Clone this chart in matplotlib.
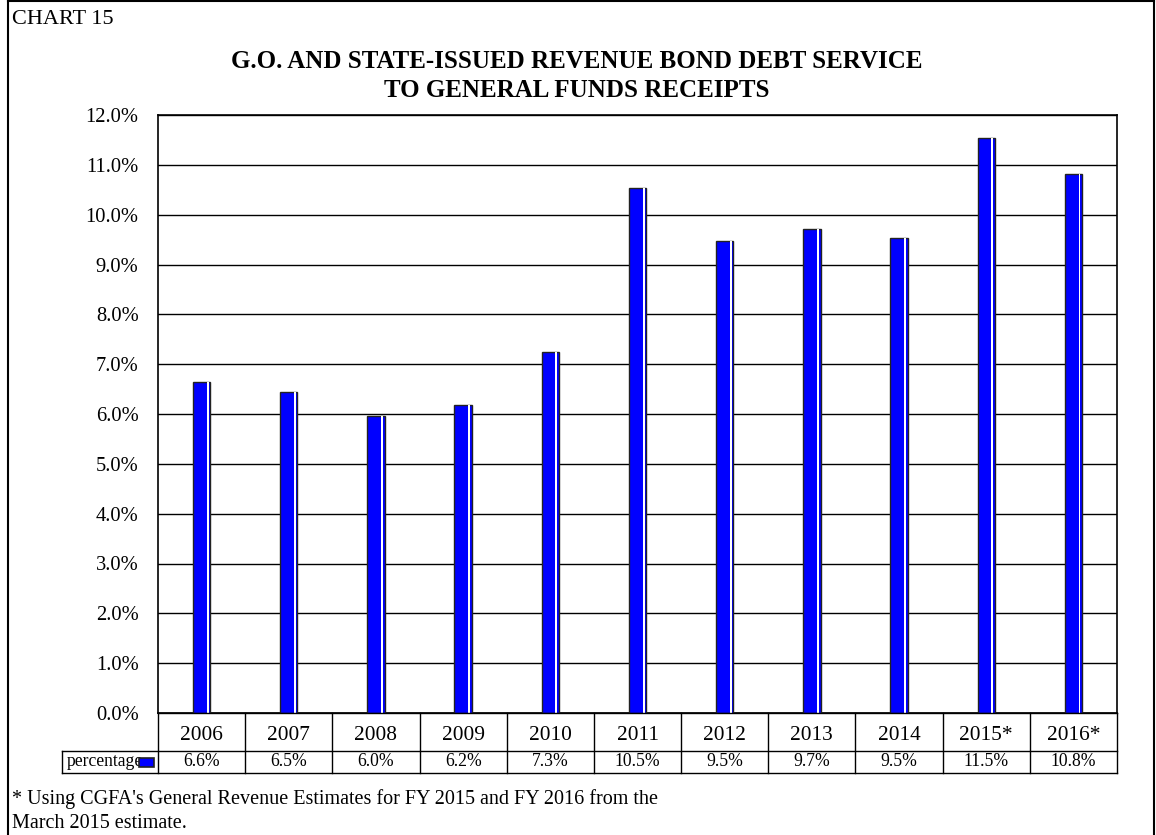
import matplotlib
matplotlib.use("Agg")
import matplotlib.pyplot as plt
from matplotlib.lines import Line2D
from matplotlib.patches import Rectangle

years = ["2006", "2007", "2008", "2009", "2010", "2011", "2012", "2013", "2014", "2015*", "2016*"]
values = [6.64, 6.44, 5.96, 6.18, 7.24, 10.54, 9.47, 9.71, 9.53, 11.54, 10.82]
table_labels = ["6.6%", "6.5%", "6.0%", "6.2%", "7.3%", "10.5%", "9.5%", "9.7%", "9.5%", "11.5%", "10.8%"]
series_name = "percentage"
title = "G.O. AND STATE-ISSUED REVENUE BOND DEBT SERVICE\nTO GENERAL FUNDS RECEIPTS"
chart_label = "CHART 15"
footnote = "* Using CGFA's General Revenue Estimates for FY 2015 and FY 2016 from the\nMarch 2015 estimate."
yticks = [i for i in range(0, 13)]

plt.rcParams['font.family'] = ['Liberation Serif', 'DejaVu Serif']

W, H = 1156, 835
fig = plt.figure(figsize=(W / 100, H / 100), dpi=100)

def fx(px):
    return px / W

def fy(py):
    return 1 - py / H

# outer border
for xs, ys in [((8, 8), (1, 835)), ((8, 1154), (1, 1)), ((1154, 1154), (1, 835))]:
    fig.add_artist(Line2D([fx(xs[0]), fx(xs[1])], [fy(ys[0]), fy(ys[1])], color='black', lw=1.5))

fig.text(fx(12), fy(19), chart_label, fontsize=16, ha='left', va='center')
fig.text(fx(577), fy(76), title, fontsize=18, fontweight='bold', ha='center', va='center', linespacing=1.35)

L, R, T, B = 158, 1117, 115, 713
ax = fig.add_axes([fx(L), fy(B), fx(R - L), (B - T) / H])
n = len(years)
x = list(range(n))
bw = 0.2
ax.bar(x, values, width=bw, color='#0000ff', edgecolor='#222222', linewidth=1.0, zorder=3)
ax.bar([xi + bw / 2 - 0.03 for xi in x], values, width=0.022, color='white', linewidth=0, zorder=4)
ax.set_xlim(-0.5, n - 0.5)
ax.set_ylim(0, 12)
ax.set_yticks(yticks)
ax.set_yticklabels([f"{v:.1f}%" for v in yticks], fontsize=14.8)
ax.tick_params(axis='y', length=0, pad=14)
ax.set_xticks([])
ax.grid(axis='y', color='black', lw=1.0, zorder=1)
for s in ax.spines.values():
    s.set_linewidth(1.2)
    s.set_color('black')

# table
TB = 773
tab = fig.add_axes([fx(L), fy(TB), fx(R - L), (TB - B) / H])
tab.set_xlim(-0.5, n - 0.5)
tab.set_ylim(0, TB - B)
tab.axis('off')
row_h = 22
col_px = (R - L) / n
left_x = -0.5 - (L - 62) / col_px
lk = dict(color='black', lw=1.0, clip_on=False)
tab.plot([-0.5, n - 0.5], [TB - B, TB - B], **lk)
tab.plot([left_x, n - 0.5], [row_h, row_h], **lk)
tab.plot([left_x, n - 0.5], [0, 0], **lk)
tab.plot([left_x, left_x], [0, row_h], **lk)
for i in range(n + 1):
    tab.plot([i - 0.5, i - 0.5], [0, TB - B], **lk)
for i in range(n):
    tab.text(i, row_h + 16, years[i], ha='center', va='center', fontsize=15.4)
    tab.text(i, row_h / 2, table_labels[i], ha='center', va='center', fontsize=12.7)
tab.text(left_x + 0.05, row_h / 2, series_name, ha='left', va='center', fontsize=12.7)
sw = 15 / col_px
tab.add_patch(Rectangle((-0.5 - 4 / col_px - sw, 6), sw, 9, facecolor='#0000ff', edgecolor='#222222', lw=1.2, clip_on=False, zorder=5))

fig.text(fx(12), fy(811), footnote, fontsize=14.5, ha='left', va='center', linespacing=1.3)

fig.savefig("out.png", dpi=100)
